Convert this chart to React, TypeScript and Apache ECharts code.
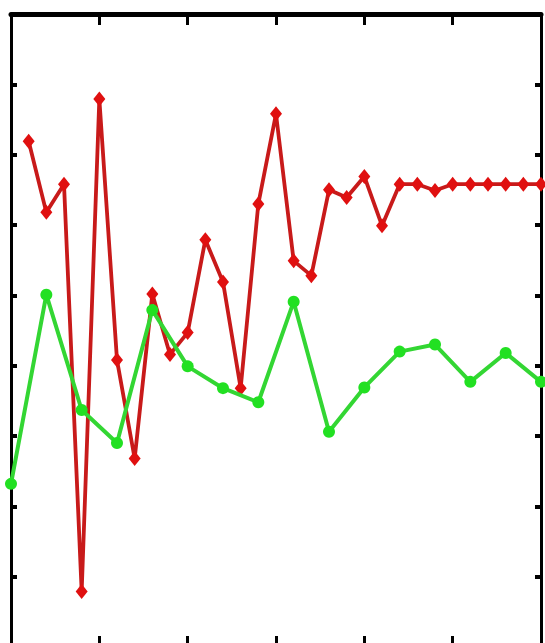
import React, { useEffect, useRef } from "react";
import * as echarts from "echarts";

const redX: number[] = [1, 2, 3, 4, 5, 6, 7, 8, 9, 10, 11, 12, 13, 14, 15, 16, 17, 18, 19, 20, 21, 22, 23, 24, 25, 26, 27, 28, 29, 30];
const redY: number[] = [71.9, 61.8, 65.8, 7.9, 77.9, 40.8, 26.8, 50.2, 41.6, 44.7, 57.9, 51.9, 36.8, 63.0, 75.8, 54.9, 52.8, 65.0, 63.9, 66.9, 59.9, 65.8, 65.8, 64.9, 65.8, 65.8, 65.8, 65.8, 65.8, 65.8];
const greenX: number[] = [0, 2, 4, 6, 8, 10, 12, 14, 16, 18, 20, 22, 24, 26, 28, 30];
const greenY: number[] = [23.2, 50.1, 33.7, 29.0, 47.9, 39.9, 36.8, 34.8, 49.1, 30.6, 36.9, 42.0, 43.0, 37.7, 41.8, 37.7];

const X_MIN = 0;
const X_MAX = 30;
const X_STEP = 5;
const Y_MIN = 0;
const Y_MAX = 90;
const Y_STEP = 10;

export default function App() {
  const ref = useRef<HTMLDivElement>(null);
  useEffect(() => {
    if (!ref.current) return;
    const chart = echarts.init(ref.current, undefined, { renderer: "svg" });
    const xBase = (pos: "top" | "bottom", lw: number) => ({
      type: "value" as const,
      position: pos,
      min: X_MIN,
      max: X_MAX,
      interval: X_STEP,
      axisLine: { show: true, onZero: false, lineStyle: { color: "#000", width: lw } },
      axisTick: { show: true, inside: true, length: 11, lineStyle: { color: "#000", width: 3 } },
      axisLabel: { show: false },
      splitLine: { show: false },
    });
    const yBase = (pos: "left" | "right") => ({
      type: "value" as const,
      position: pos,
      min: Y_MIN,
      max: Y_MAX,
      interval: Y_STEP,
      axisLine: { show: true, onZero: false, lineStyle: { color: "#000", width: 3 } },
      axisTick: { show: true, inside: true, length: 6, lineStyle: { color: "#000", width: 4 } },
      axisLabel: { show: false },
      splitLine: { show: false },
    });
    chart.setOption({
      animation: false,
      backgroundColor: "#ffffff",
      grid: { left: 11, top: 14, width: 530, height: 633, containLabel: false },
      xAxis: [xBase("bottom", 3), xBase("top", 5)],
      yAxis: [yBase("left"), yBase("right")],
      series: [
        {
          type: "line",
          name: "red",
          xAxisIndex: 0,
          yAxisIndex: 0,
          data: redX.map((x, i) => [x, redY[i]]),
          symbol: "diamond",
          symbolSize: [12, 15],
          showAllSymbol: true,
          lineStyle: { color: "#c81a1a", width: 3.8 },
          itemStyle: { color: "#e01010", borderWidth: 0 },
          z: 2,
        },
        {
          type: "line",
          name: "green",
          xAxisIndex: 0,
          yAxisIndex: 0,
          data: greenX.map((x, i) => [x, greenY[i]]),
          symbol: "circle",
          symbolSize: 12,
          showAllSymbol: true,
          lineStyle: { color: "#33d633", width: 4 },
          itemStyle: { color: "#22e022", borderWidth: 0 },
          z: 3,
        },
      ],
    });
    return () => chart.dispose();
  }, []);
  return (
    <div style={{ position: "fixed", left: 0, top: 0, width: 545, height: 643, overflow: "hidden", background: "#fff" }}>
      <div ref={ref} style={{ width: 545, height: 660 }} />
    </div>
  );
}
